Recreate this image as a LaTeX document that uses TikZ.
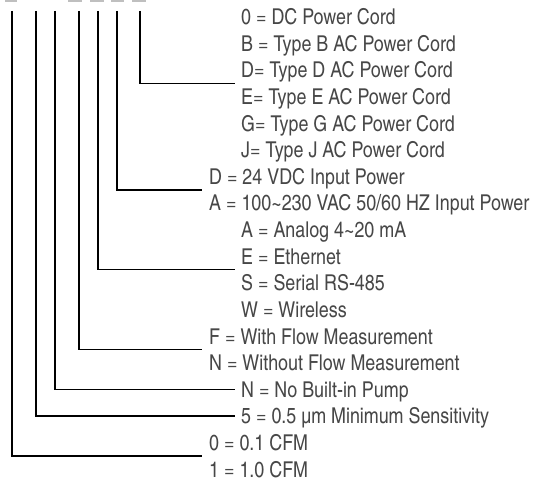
\documentclass[tikz,border=0pt]{standalone}
\usepackage{fontspec}
\setmainfont{texgyreheroscn}[Extension=.otf, UprightFont=*-regular]
\usetikzlibrary{calc}

\begin{document}
\begin{tikzpicture}[x=1pt, y=-1pt, font=\fontsize{21.8}{25}\selectfont,
  opt/.style={anchor=west, inner sep=0pt, text height=15.6pt, text depth=0pt, text=black!72},
  lead/.style={line width=1.3pt}]
\useasboundingbox (0,0) rectangle (539,487);

% cut-off code characters at the top edge
\foreach \a/\b in {5/17, 68/82, 90/104, 111/124, 132/146}
  \fill[gray!50] (\a,0) rectangle (\b,2);

% Power cord options
\node[opt] (cord0) at (241,17)    {0 = DC Power Cord};
\node[opt] (cordB) at (241,43.6)  {B = Type B AC Power Cord};
\node[opt] (cordD) at (241,70.2)  {D= Type D AC Power Cord};
\node[opt] (cordE) at (241,96.8)  {E= Type E AC Power Cord};
\node[opt] (cordG) at (241,123.4) {G= Type G AC Power Cord};
\node[opt] (cordJ) at (241,150)   {J= Type J AC Power Cord};

% Input power
\node[opt] (pwrD) at (209,176.6) {D = 24 VDC Input Power};
\node[opt] (pwrA) at (209,203.2) {A = 100\textasciitilde230 VAC 50/60 HZ Input Power};

% Output
\node[opt] (outA) at (241,229.8) {A = Analog 4\textasciitilde20 mA};
\node[opt] (outE) at (241,256.4) {E = Ethernet};
\node[opt] (outS) at (241,283)   {S = Serial RS-485};
\node[opt] (outW) at (241,309.6) {W = Wireless};

% Flow, pump, sensitivity, flow rate
\node[opt] (flowF) at (209,336.2) {F = With Flow Measurement};
\node[opt] (flowN) at (209,362.8) {N = Without Flow Measurement};
\node[opt] (pump)  at (241,389.4) {N = No Built-in Pump};
\node[opt] (sens)  at (241,416)   {5 = 0.5 µm Minimum Sensitivity};
\node[opt] (rate0) at (209,442.6) {0 = 0.1 CFM};
\node[opt] (rate1) at (209,469.2) {1 = 1.0 CFM};

% leads from the code positions
\foreach \n/\x in {a/12, b/36, c/55, d/79, e/98, f/117, g/140}
  \coordinate (top\n) at (\x,11);

\draw[lead] (topg) |- ($(cordD.west)!0.5!(cordE.west) + (-6,0)$);
\draw[lead] (topf) |- ($(pwrD.west)!0.5!(pwrA.west) + (-7,0)$);
\draw[lead] (tope) |- ($(outE.west)!0.5!(outS.west) + (-6,0)$);
\draw[lead] (topd) |- ($(flowF.west)!0.5!(flowN.west) + (-7,0)$);
\draw[lead] (topc) |- ($(pump.west) + (-6,0)$);
\draw[lead] (topb) |- ($(sens.west) + (-6,0)$);
\draw[lead] (topa) |- ($(rate0.west)!0.5!(rate1.west) + (-7,0)$);

\end{tikzpicture}
\end{document}
